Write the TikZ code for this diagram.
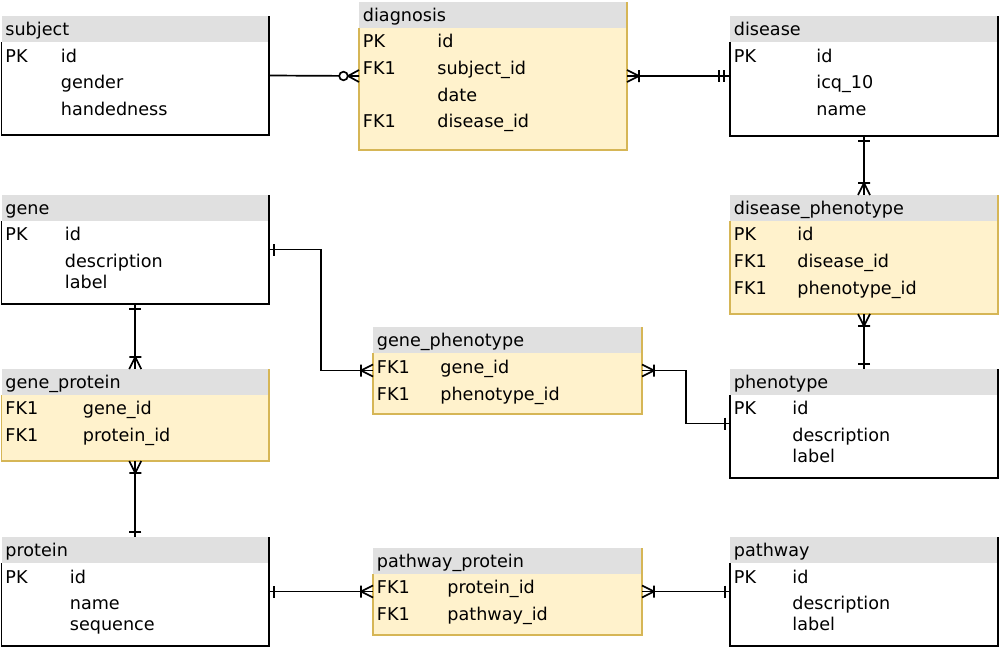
\documentclass[tikz,border=0pt]{standalone}
\usepackage{fontspec}
\setmainfont{DejaVu Sans}
\usetikzlibrary{calc}

\definecolor{headgrey}{HTML}{E0E0E0}
\definecolor{assocfill}{HTML}{FFF2CC}
\definecolor{assocline}{HTML}{D6B656}

\tikzset{
  tbl/.style 2 args={minimum width=#1*0.5pt, minimum height=#2*0.5pt, anchor=north west, inner sep=0pt, outer sep=0pt},
  entity/.style={fill=white},
  assoc/.style={fill=assocfill},
  entity frame/.style={draw=black, line width=.9pt},
  assoc frame/.style={draw=assocline, line width=.6pt},
  head/.style={fill=headgrey},
  title/.style={anchor=west, inner sep=0pt, text height=6.4pt, text depth=0pt, font=\fontsize{8.8}{10.4}\selectfont},
  field/.style={title},
  conn/.style={line width=.85pt},
  % crow's foot ends, drawn with the line going off towards +x
  crowone/.pic={\draw[conn] (5,-6) -- (5,6);},
  crowonlyone/.pic={\draw[conn] (6,-6) -- (6,6) (11,-6) -- (11,6);},
  crowonemany/.pic={\draw[conn] (0,6) -- (12,0) -- (0,-6) (12,-6) -- (12,6);},
  crowzeromany/.pic={\draw[conn] (0,6) -- (11,0) -- (0,-6); \draw[conn,fill=white] (15.5,0) circle (4.3);}
}

% name, x, y, width, height, kind, title, value column, rows
\newcommand{\ertable}[9]{%
  \node[tbl={#4}{#5}, #6] (#1) at (#2,-#3) {};
  \fill[head] (#1.north west) rectangle ($(#1.north east)+(0,-26)$);
  \draw[#6 frame] ($(#1.north west)+(0,-26)$) -- (#1.south west) -- (#1.south east) -- (#1.north east);
  \node[title] (#1-title) at (#2+3.5,-#3-13) {#7};
  \foreach \k/\v/\dy [count=\i] in {#9} {
    \node[field] (#1-k\i) at (#2+3.5,-#3-\dy) {\k};
    \node[field] (#1-v\i) at (#2+#8,-#3-\dy) {\v};
  }
}

\begin{document}
\begin{tikzpicture}[x=0.5pt,y=0.5pt]
  \useasboundingbox (0,0) rectangle (1000,-648);

  % tables
  \ertable{subject}{1.5}{16}{267.5}{119}{entity}{subject}{59}{PK/id/40,/gender/66.5,/handedness/93}
  \ertable{diagnosis}{359}{2}{268}{148}{assoc}{diagnosis}{78}{PK/id/39,FK1/subject\_id/66,/date/93,FK1/disease\_id/119.5}
  \ertable{disease}{730}{16}{268}{120}{entity}{disease}{86}{PK/id/40,/icq\_10/66.5,/name/93}
  \ertable{gene}{1.5}{195}{267.5}{109}{entity}{gene}{63}{PK/id/39,/description/66,/label/87}
  \ertable{dphen}{730}{195}{268}{119}{assoc}{disease\_phenotype}{67}{PK/id/39,FK1/disease\_id/66,FK1/phenotype\_id/93}
  \ertable{genephen}{373}{327}{269}{87}{assoc}{gene\_phenotype}{67}{FK1/gene\_id/40,FK1/phenotype\_id/67}
  \ertable{geneprot}{1.5}{369}{267.5}{92}{assoc}{gene\_protein}{81}{FK1/gene\_id/39,FK1/protein\_id/66}
  \ertable{phenotype}{730}{369}{268}{109}{entity}{phenotype}{62}{PK/id/39,/description/66,/label/87}
  \ertable{protein}{1.5}{537}{267.5}{109}{entity}{protein}{68}{PK/id/40,/name/66,/sequence/87}
  \ertable{pathprot}{373}{548}{269}{87}{assoc}{pathway\_protein}{74}{FK1/protein\_id/39,FK1/pathway\_id/66}
  \ertable{pathway}{730}{537}{268}{109}{entity}{pathway}{62}{PK/id/40,/description/66,/label/87}

  % relations
  \draw[conn] (subject.east) -- (diagnosis.west);
  \draw[conn] (diagnosis.east) -- (disease.west);
  \draw[conn] (disease.south) -- (dphen.north);
  \draw[conn] (dphen.south) -- (phenotype.north);
  \draw[conn] (gene.east) -- ++(52,0) |- (genephen.west);
  \draw[conn] (genephen.east) -- ++(44,0) |- (phenotype.west);
  \draw[conn] (gene.south) -- (geneprot.north);
  \draw[conn] (geneprot.south) -- (protein.north);
  \draw[conn] (protein.east) -- (pathprot.west);
  \draw[conn] (pathprot.east) -- (pathway.west);

  % ends
  \pic[rotate=180] at (diagnosis.west) {crowzeromany};
  \pic at (diagnosis.east) {crowonemany};
  \pic[rotate=180] at (disease.west) {crowonlyone};
  \pic[rotate=-90] at (disease.south) {crowone};
  \pic[rotate=90] at (dphen.north) {crowonemany};
  \pic[rotate=-90] at (dphen.south) {crowonemany};
  \pic[rotate=90] at (phenotype.north) {crowone};
  \pic at (gene.east) {crowone};
  \pic[rotate=180] at (genephen.west) {crowonemany};
  \pic at (genephen.east) {crowonemany};
  \pic[rotate=180] at (phenotype.west) {crowone};
  \pic[rotate=-90] at (gene.south) {crowone};
  \pic[rotate=90] at (geneprot.north) {crowonemany};
  \pic[rotate=-90] at (geneprot.south) {crowonemany};
  \pic[rotate=90] at (protein.north) {crowone};
  \pic at (protein.east) {crowone};
  \pic[rotate=180] at (pathprot.west) {crowonemany};
  \pic at (pathprot.east) {crowonemany};
  \pic[rotate=180] at (pathway.west) {crowone};
\end{tikzpicture}
\end{document}
